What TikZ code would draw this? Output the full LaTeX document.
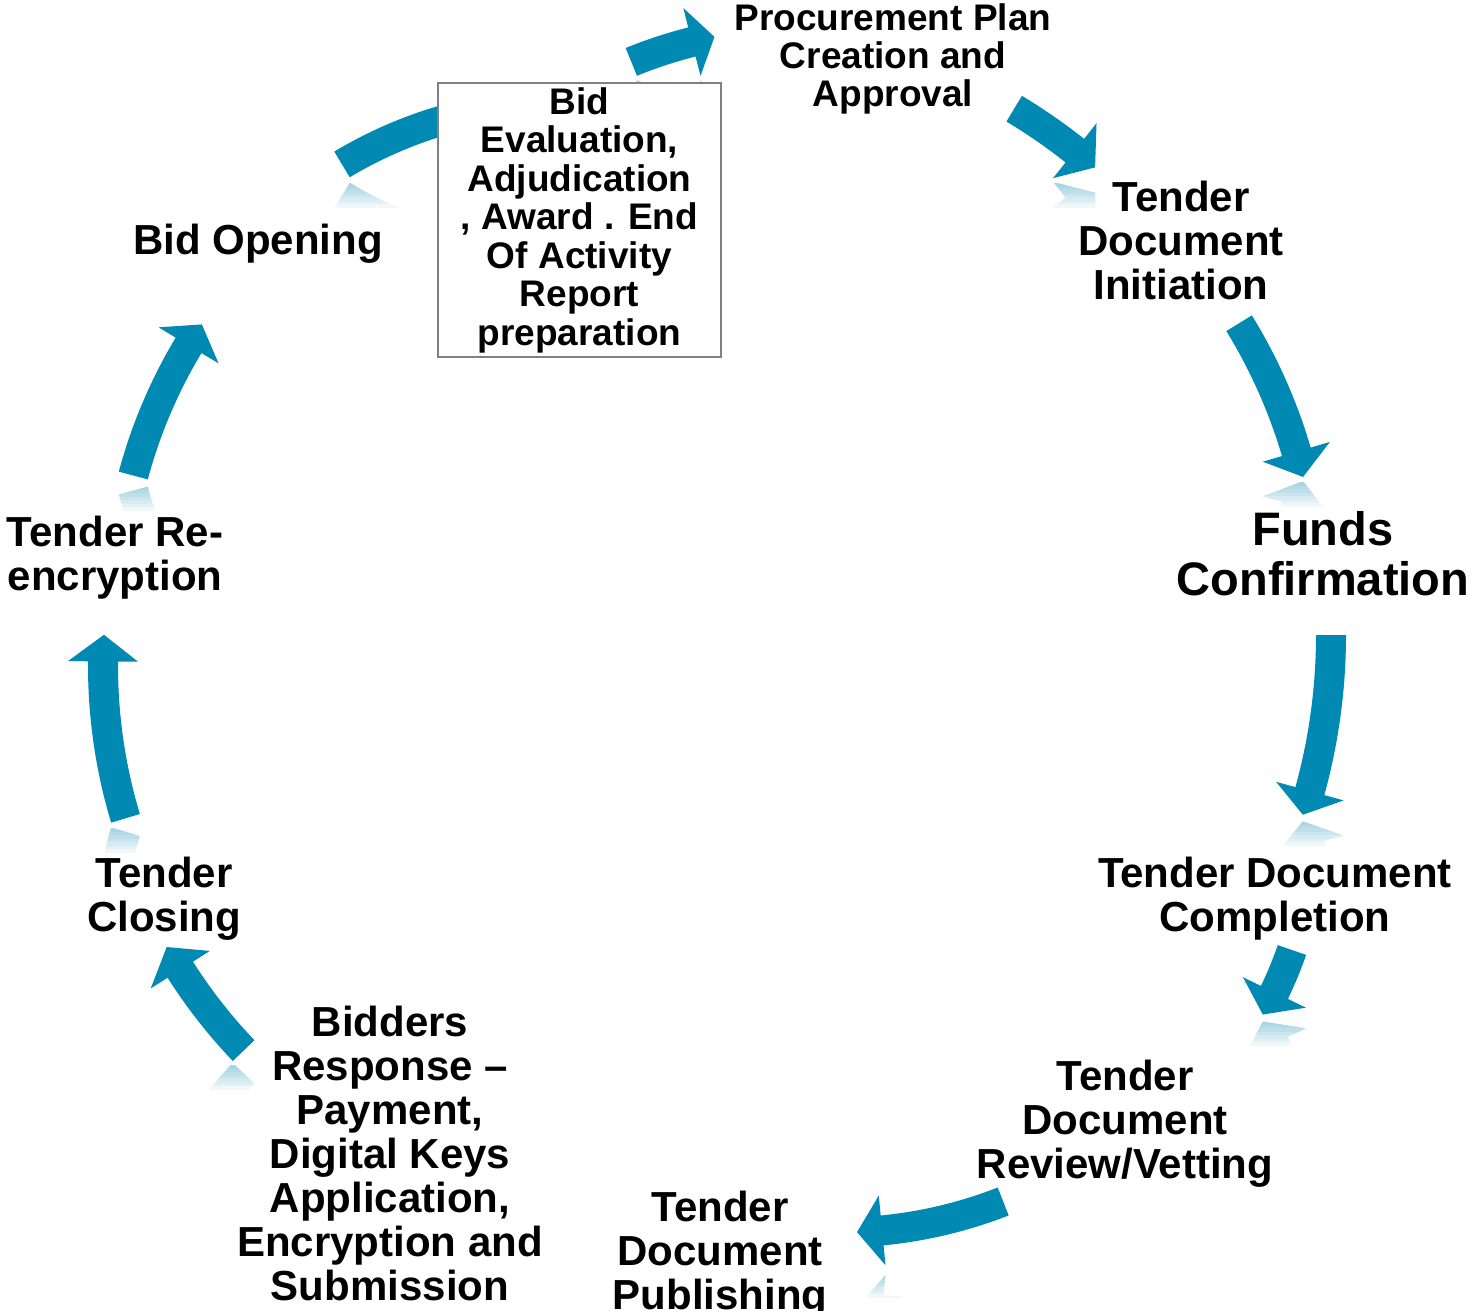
\documentclass[tikz,border=0pt]{standalone}
\usepackage{fontspec}
\setmainfont{Liberation Sans}
\definecolor{arrowblue}{RGB}{0,137,178}
\definecolor{boxgray}{RGB}{128,128,128}
\def\arbw{15}
\def\arhw{35}
% #1 cx, #2 cy, #3 r, #4 a1 (tail), #5 a2 (head base), #6 a3 (tip), #7 options
\newcommand\arrowfill[7]{%
 \fill[#7] ({#1+(#3+\arbw)*cos(#4)},{#2+(#3+\arbw)*sin(#4)})
   arc[start angle=#4,end angle=#5,radius={#3+\arbw}]
   -- ({#1+(#3+\arhw)*cos(#5)},{#2+(#3+\arhw)*sin(#5)})
   -- ({#1+#3*cos(#6)},{#2+#3*sin(#6)})
   -- ({#1+(#3-\arhw)*cos(#5)},{#2+(#3-\arhw)*sin(#5)})
   -- ({#1+(#3-\arbw)*cos(#5)},{#2+(#3-\arbw)*sin(#5)})
   arc[start angle=#5,end angle=#4,radius={#3-\arbw}] -- cycle;}
% same + fading reflection below; #7 = lowest y of the arrow
\newcommand\cycarrow[7]{%
 \foreach \k in {0,...,6}{%
  \begin{scope}
   \clip (-10,{#7+6}) rectangle (1490,{#7+30-3.5*\k});
   \begin{scope}[shift={(0,{2*(#7+3)})},yscale=-1]
    \arrowfill{#1}{#2}{#3}{#4}{#5}{#6}{arrowblue,fill opacity=0.055}
   \end{scope}
  \end{scope}}%
 \arrowfill{#1}{#2}{#3}{#4}{#5}{#6}{arrowblue}%
}
\tikzset{
 lbl/.style={font=\bfseries\fontsize{42}{44}\selectfont, align=center, inner sep=0pt, anchor=north, text=black},
 evalbox/.style={draw=boxgray, line width=1.5pt, fill=white, minimum width=283pt, minimum height=274pt,
   inner sep=0pt, align=center, font=\bfseries\fontsize{37}{38.5}\selectfont}
}
\begin{document}
\begin{tikzpicture}[x=1pt,y=-1pt]
\clip (0,0) rectangle (1478,1311);
\fill[white] (0,0) rectangle (1478,1311);
% arrows (clockwise)
\cycarrow{804}{485}{457}{-112.2}{-104.2}{-101.3}{75}
\cycarrow{716}{605}{579}{-59.0}{-51.7}{-49.1}{177}
\cycarrow{786}{602}{532}{-31.6}{-16.4}{-13.6}{476}
\cycarrow{743}{635}{588}{0}{15.4}{17.8}{815}
\cycarrow{926}{824}{387}{19.0}{25.8}{29.5}{1015}
\cycarrow{839}{782.5}{450}{68.6}{84.5}{87.7}{1267}
\cycarrow{621}{690}{522}{136.3}{147.6}{150.5}{1059}
\cycarrow{630}{666}{527}{163.2}{180.5}{183.4}{822}
\cycarrow{624}{607}{508}{195.0}{211.0}{213.8}{480}
\cycarrow{563.5}{533}{430}{239.0}{254.5}{257.5}{177}
% box
\node[evalbox] (evaluation) at (579.5,220) {Bid\\Evaluation,\\Adjudication\\, Award . End\\Of Activity\\Report\\preparation};
% labels
\node[lbl, font=\bfseries\fontsize{37}{38}\selectfont] (procurement) at (893,3) {Procurement Plan\\Creation and\\Approval};
\node[lbl] (initiation) at (1181,181) {Tender\\Document\\Initiation};
\node[lbl, font=\bfseries\fontsize{47}{50}\selectfont] (funds) at (1323,511) {Funds\\Confirmation};
\node[lbl] (completion) at (1275,857) {Tender Document\\Completion};
\node[lbl] (review) at (1125,1060) {Tender\\Document\\Review/Vetting};
\node[lbl] (publishing) at (720,1191) {Tender\\Document\\Publishing};
\node[lbl] (bidders) at (390,1006) {Bidders\\Response –\\Payment,\\Digital Keys\\Application,\\Encryption and\\Submission};
\node[lbl] (closing) at (164,857) {Tender\\Closing};
\node[lbl] (reencryption) at (115,516) {Tender Re-\\encryption};
\node[lbl] (opening) at (258,224) {Bid Opening};
\end{tikzpicture}
\end{document}
